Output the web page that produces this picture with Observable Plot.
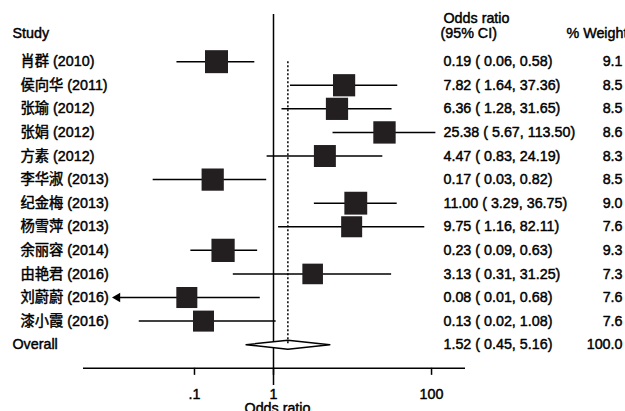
<!DOCTYPE html>
<html><head><meta charset="utf-8">
<script src="https://cdn.jsdelivr.net/npm/d3@7"></script>
<script src="https://cdn.jsdelivr.net/npm/@observablehq/plot@0.6"></script>
<style>body{margin:0;background:#fff}</style>
</head><body><div id="chart"></div>
<script>
const studies = ["肖群 (2010)", "侯向华 (2011)", "张瑜 (2012)", "张娟 (2012)", "方素 (2012)", "李华淑 (2013)", "纪金梅 (2013)", "杨雪萍 (2013)", "余丽容 (2014)", "由艳君 (2016)", "刘蔚蔚 (2016)", "漆小霞 (2016)"];
const oddsRatio = [0.19, 7.82, 6.36, 25.38, 4.47, 0.17, 11.00, 9.75, 0.23, 3.13, 0.08, 0.13];
const ciLow = [0.06, 1.64, 1.28, 5.67, 0.83, 0.03, 3.29, 1.16, 0.09, 0.31, 0.01, 0.02];
const ciHigh = [0.58, 37.36, 31.65, 113.50, 24.19, 0.82, 36.75, 82.11, 0.63, 31.25, 0.68, 1.08];
const weightPct = [9.1, 8.5, 8.5, 8.6, 8.3, 8.5, 9.0, 7.6, 9.3, 7.3, 7.6, 7.6];
const overallLabel = "Overall";
const overallOR = 1.52, overallLow = 0.45, overallHigh = 5.16, overallWeight = 100.0;
const xTicks = [0.1, 1, 100];
const xTickLabels = [".1", "1", "100"];
const arrowCutoff = 0.01;

const rows = studies.map((s, i) => ({label: s, i, or: oddsRatio[i], lo: ciLow[i], hi: ciHigh[i], w: weightPct[i]}));
const overallRow = {label: overallLabel, i: studies.length, or: overallOR, lo: overallLow, hi: overallHigh, w: overallWeight};
const all = [...rows, overallRow];
const axisRow = studies.length + 1;
const oi = overallRow.i;
const dh = 0.19;
const diamond = [
  {x: overallLow, y: oi}, {x: overallOR, y: oi - dh}, {x: overallHigh, y: oi},
  {x: overallOR, y: oi + dh}, {x: overallLow, y: oi}
];
const fmt = d => `${d.or.toFixed(2)} ( ${d.lo.toFixed(2)}, ${d.hi.toFixed(2)})`;
const font = '"Liberation Sans", Arial, "Noto Sans CJK SC", sans-serif';
const T = {fontSize: 14.3, fill: "#000", stroke: "#000", strokeWidth: 0.45};

const chart = Plot.plot({
  width: 625, height: 411,
  marginLeft: 83, marginRight: 160, marginTop: 14, marginBottom: 26,
  x: {type: "log", domain: [0.00394, 269], axis: null},
  y: {domain: [-2, 13.73], reverse: true, axis: null},
  r: {domain: [0, 10], range: [0, 13.6]},
  style: {fontFamily: font, fontSize: "14px", color: "#000", background: "#fff"},
  marks: [
    Plot.ruleX([1], {stroke: "#000", strokeWidth: 1.5}),
    Plot.ruleY([axisRow], {stroke: "#000", strokeWidth: 1.5}),
    Plot.ruleX(xTicks, {x: d => d, y1: axisRow, y2: axisRow + 0.3, stroke: "#000", strokeWidth: 1.5}),
    Plot.text(xTicks, {x: d => d, y: axisRow + 1.1, text: (d, i) => xTickLabels[i], ...T}),
    Plot.text(["Odds ratio"], {y: axisRow + 1.72, dx: 3, text: d => d, ...T}),
    Plot.ruleY(rows, {y: "i", x1: "lo", x2: "hi", stroke: "#000", strokeWidth: 1.5}),
    Plot.dot(rows.filter(d => d.lo <= arrowCutoff), {x: "lo", y: "i", symbol: "triangle", rotate: -90, r: 3.5, fill: "#000", stroke: null, dx: 2}),
    Plot.dot(rows, {x: "or", y: "i", r: "w", symbol: "square", fill: "#231f20", stroke: null}),
    Plot.line(diamond, {x: "x", y: "y", stroke: "#000", strokeWidth: 1.5, fill: "#fff", curve: "linear"}),
    Plot.ruleX([overallRow], {x: "or", y1: 0, y2: oi, stroke: "#000", strokeWidth: 1.5, strokeDasharray: "2,2"}),
    Plot.text(["Study"], {y: -1.2, text: d => d, frameAnchor: "left", dx: -71, textAnchor: "start", ...T}),
    Plot.text(rows, {y: "i", text: "label", frameAnchor: "left", dx: -63, textAnchor: "start", ...T}),
    Plot.text([overallRow], {y: "i", text: "label", frameAnchor: "left", dx: -71, textAnchor: "start", ...T}),
    Plot.text(["Odds ratio"], {y: -1.83, text: d => d, frameAnchor: "right", dx: -22, textAnchor: "start", ...T}),
    Plot.text(["(95% CI)"], {y: -1.2, text: d => d, frameAnchor: "right", dx: -25, textAnchor: "start", ...T}),
    Plot.text(["% Weight"], {y: -1.2, text: d => d, frameAnchor: "right", dx: 101, textAnchor: "start", ...T}),
    Plot.text(all, {y: "i", text: fmt, frameAnchor: "right", dx: -22, textAnchor: "start", ...T}),
    Plot.text(all, {y: "i", text: d => d.w.toFixed(1), frameAnchor: "right", dx: 157, textAnchor: "end", ...T})
  ]
});
document.getElementById("chart").appendChild(chart);
</script>
</body></html>
